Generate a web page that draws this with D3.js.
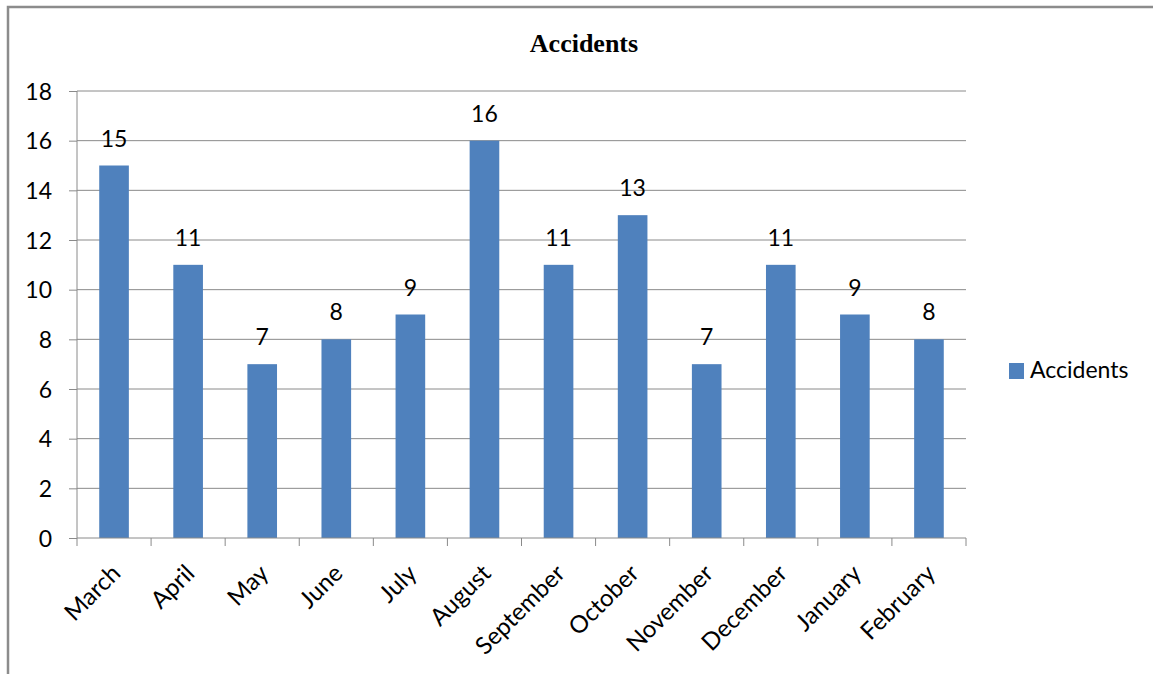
<!DOCTYPE html>
<html>
<head>
<meta charset="utf-8">
<script src="https://cdn.jsdelivr.net/npm/d3@7"></script>
<style>
  body { margin: 0; background: #fff; }
</style>
</head>
<body>
<script>
// chart values
var months = ["March", "April", "May", "June", "July", "August", "September",
              "October", "November", "December", "January", "February"];
var accidents = [15, 11, 7, 8, 9, 16, 11, 13, 7, 11, 9, 8];
var yTicks = [0, 2, 4, 6, 8, 10, 12, 14, 16, 18];
var seriesName = "Accidents";

var width = 1153, height = 674;
var plotLeft = 77, plotRight = 966, plotTop = 91, plotBottom = 538;
var labelFont = "Lato, 'Open Sans', sans-serif";

var svg = d3.select("body").append("svg")
    .attr("width", width)
    .attr("height", height);

/* frame */
svg.append("rect")
    .attr("x", 8).attr("y", 7)
    .attr("width", width + 20).attr("height", height + 20)
    .attr("fill", "#fff")
    .attr("stroke", "#8c8c8c")
    .attr("stroke-width", 2.5);

/* title */
svg.append("text")
    .attr("x", 584).attr("y", 52)
    .attr("text-anchor", "middle")
    .attr("font-family", "'Liberation Serif', 'Times New Roman', serif")
    .attr("font-weight", "bold")
    .attr("font-size", 26)
    .attr("fill", "#000")
    .text("Accidents");

var x = d3.scaleBand().domain(months).range([plotLeft, plotRight]).paddingInner(0.6).paddingOuter(0.3);
var band = d3.scaleBand().domain(months).range([plotLeft, plotRight]);
var y = d3.scaleLinear().domain([0, 18]).range([plotBottom, plotTop]);

/* gridlines */
svg.append("g").selectAll("line")
    .data(yTicks.filter(function(d){ return d > 0; }))
    .enter().append("line")
    .attr("x1", plotLeft).attr("x2", plotRight)
    .attr("y1", function(d){ return y(d); })
    .attr("y2", function(d){ return y(d); })
    .attr("stroke", "#8a8a8a")
    .attr("stroke-width", 1);

/* y axis */
var yAxis = svg.append("g")
    .attr("transform", "translate(" + plotLeft + ",0)")
    .call(d3.axisLeft(y).tickValues(yTicks).tickSize(8).tickPadding(17));
yAxis.select(".domain").attr("stroke", "#8a8a8a").attr("d", "M0," + plotTop + "V" + plotBottom);
yAxis.selectAll(".tick line").attr("stroke", "#8a8a8a");
yAxis.selectAll(".tick text")
    .attr("font-family", labelFont)
    .attr("font-size", 23)
    .attr("fill", "#000")
    .attr("dy", "0.36em");

/* bars */
svg.append("g").selectAll("rect")
    .data(accidents)
    .enter().append("rect")
    .attr("x", function(d, i){ return x(months[i]); })
    .attr("y", function(d){ return y(d); })
    .attr("width", x.bandwidth())
    .attr("height", function(d){ return plotBottom - y(d); })
    .attr("fill", "#4f81bd");

/* value labels */
svg.append("g").selectAll("text")
    .data(accidents)
    .enter().append("text")
    .attr("x", function(d, i){ return x(months[i]) + x.bandwidth() / 2; })
    .attr("y", function(d){ return y(d) - 19; })
    .attr("text-anchor", "middle")
    .attr("font-family", labelFont)
    .attr("font-size", 23)
    .attr("fill", "#000")
    .text(function(d){ return d; });

/* x axis */
var xAxis = svg.append("g")
    .attr("transform", "translate(0," + plotBottom + ")");
xAxis.append("line")
    .attr("x1", plotLeft).attr("x2", plotRight)
    .attr("stroke", "#8a8a8a");
xAxis.selectAll(".xtick")
    .data(months.concat(["end"]))
    .enter().append("line")
    .attr("class", "xtick")
    .attr("x1", function(d, i){ return plotLeft + i * band.bandwidth(); })
    .attr("x2", function(d, i){ return plotLeft + i * band.bandwidth(); })
    .attr("y1", 0).attr("y2", 8)
    .attr("stroke", "#8a8a8a");
xAxis.selectAll(".xlabel")
    .data(months)
    .enter().append("text")
    .attr("class", "xlabel")
    .attr("transform", function(d){
        return "translate(" + (band(d) + band.bandwidth() / 2 - 4) + ",25) rotate(-45)";
    })
    .attr("text-anchor", "end")
    .attr("dy", "0.7em")
    .attr("font-family", labelFont)
    .attr("font-size", 24)
    .attr("fill", "#000")
    .text(function(d){ return d; });

/* legend */
var legend = svg.append("g").attr("transform", "translate(1009,363)");
legend.append("rect")
    .attr("width", 15).attr("height", 16)
    .attr("fill", "#4f81bd");
legend.append("text")
    .attr("x", 21).attr("y", 15)
    .attr("font-family", labelFont)
    .attr("font-size", 23)
    .attr("fill", "#000")
    .text(seriesName);
</script>
</body>
</html>
